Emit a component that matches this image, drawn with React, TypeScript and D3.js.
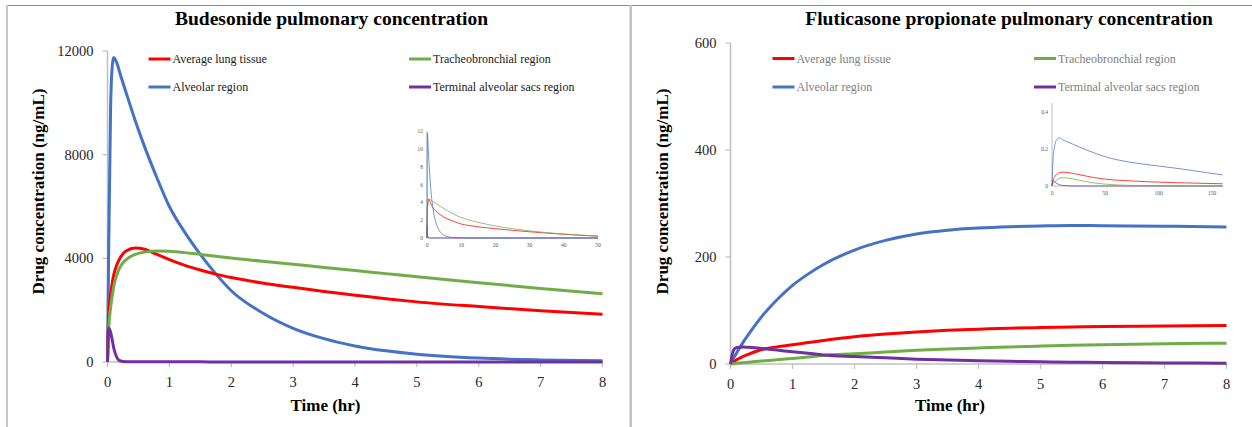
import React from 'react';
import * as d3 from 'd3';

// ---- Budesonide, 0-8 hr (ng/mL) ----
const budTime = [0, 0.02, 0.05, 0.08, 0.1, 0.15, 0.2, 0.3, 0.45, 0.6, 0.8, 1, 1.25, 1.5, 1.75, 2, 2.5, 3, 3.5, 4, 4.5, 5, 6, 7, 8];
const budAverage = [0, 1800, 2600, 3100, 3350, 3750, 4000, 4280, 4400, 4350, 4150, 3950, 3730, 3550, 3390, 3260, 3050, 2880, 2720, 2580, 2440, 2320, 2140, 1980, 1840];
const budTracheo = [0, 1300, 2100, 2600, 2900, 3350, 3650, 3950, 4150, 4240, 4280, 4270, 4220, 4150, 4080, 4010, 3890, 3770, 3650, 3530, 3410, 3290, 3060, 2840, 2630];
const budAlveolar = [0, 4500, 9800, 11500, 11750, 11550, 11150, 10400, 9300, 8300, 7100, 6000, 5000, 4150, 3400, 2750, 1900, 1300, 900, 620, 430, 300, 150, 80, 45];
const budTerminal = [0, 1300, 1150, 800, 550, 180, 50, 12, 8, 6, 5, 5, 5, 5, 4, 4, 4, 4, 4, 3, 3, 3, 3, 3, 3];
const budYTicks = [0, 4000, 8000, 12000];

// Budesonide inset, 0-50 hr (x1000 ng/mL)
const budInsetTime = [0, 0.02, 0.1, 0.45, 0.8, 1, 2, 3, 4, 5, 6, 7, 8, 10, 12, 15, 20, 25, 30, 35, 40, 45, 50];
const budInsetAverage = [0, 1.8, 3.35, 4.4, 4.15, 3.95, 3.26, 2.88, 2.58, 2.32, 2.14, 1.98, 1.84, 1.57, 1.42, 1.25, 1.05, 0.86, 0.7, 0.55, 0.42, 0.3, 0.2];
const budInsetTracheo = [0, 1.3, 2.9, 4.15, 4.28, 4.27, 4.01, 3.77, 3.53, 3.29, 3.06, 2.84, 2.63, 2.3, 2.05, 1.75, 1.35, 1.05, 0.8, 0.6, 0.45, 0.32, 0.22];
const budInsetAlveolar = [0, 4.5, 11.75, 9.3, 7.1, 6.0, 2.75, 1.3, 0.62, 0.3, 0.15, 0.08, 0.045, 0.015, 0.005, 0, 0, 0, 0, 0, 0, 0, 0];
const budInsetTerminal = [0, 1.3, 0.55, 0.008, 0.005, 0.005, 0.004, 0.004, 0.004, 0.003, 0.003, 0.003, 0.003, 0, 0, 0, 0, 0, 0, 0, 0, 0, 0];
const budInsetYTicks = [0, 2, 4, 6, 8, 10, 12];
const budInsetXTicks = [0, 10, 20, 30, 40, 50];

// ---- Fluticasone propionate, 0-8 hr (ng/mL) ----
const fluTime = [0, 0.05, 0.1, 0.2, 0.35, 0.5, 0.75, 1, 1.25, 1.5, 2, 2.5, 3, 3.5, 4, 4.5, 5, 5.5, 6, 7, 8];
const fluAverage = [0, 4, 8, 14, 21, 27, 32, 36, 40, 44, 51, 56, 60, 63, 65, 67, 68, 69, 70, 71, 72];
const fluTracheo = [0, 0.6, 1.2, 2.4, 4, 5.5, 8, 10.5, 13, 16, 19, 22.5, 25.5, 28, 30, 32, 33.5, 35, 36, 37.8, 39];
const fluAlveolar = [0, 11, 21, 40, 65, 88, 120, 147, 168, 186, 213, 231, 243, 250, 254, 256.5, 258, 259, 258.5, 257.5, 256];
const fluTerminal = [0, 26, 31, 32, 31, 29, 26, 23, 20, 17, 14, 11.5, 9, 7.5, 6, 5, 4, 3.3, 2.8, 2, 1.5];
const fluYTicks = [0, 200, 400, 600];

// Fluticasone inset, 0-160 hr (ug/mL)
const fluInsetTime = [0, 1, 2, 3, 5, 7, 10, 15, 20, 30, 40, 50, 60, 75, 90, 100, 115, 130, 145, 160];
const fluInsetAverage = [0, 0.03, 0.045, 0.055, 0.066, 0.072, 0.075, 0.073, 0.068, 0.056, 0.045, 0.037, 0.032, 0.027, 0.023, 0.021, 0.018, 0.016, 0.014, 0.012];
const fluInsetTracheo = [0, 0.012, 0.02, 0.026, 0.035, 0.041, 0.045, 0.043, 0.038, 0.026, 0.016, 0.01, 0.006, 0.003, 0.002, 0.001, 0, 0, 0, 0];
const fluInsetAlveolar = [0, 0.15, 0.2, 0.23, 0.255, 0.26, 0.25, 0.237, 0.225, 0.2, 0.178, 0.158, 0.143, 0.127, 0.115, 0.108, 0.097, 0.085, 0.072, 0.06];
const fluInsetTerminal = [0, 0.03, 0.025, 0.02, 0.012, 0.007, 0.003, 0.001, 0, 0, 0, 0, 0, 0, 0, 0, 0, 0, 0, 0];
const fluInsetYTicks = [0, 0.2, 0.4];
const fluInsetXTicks = [0, 50, 100, 150];

const xTicks = [0, 1, 2, 3, 4, 5, 6, 7, 8];
const seriesNames = ['Average lung tissue', 'Tracheobronchial region', 'Alveolar region', 'Terminal alveolar sacs region'];
const colors = ['#ff0000', '#70ad47', '#4472c4', '#7030a0'];

const serif = '"Liberation Serif", "Times New Roman", serif';
const axisGray = '#bfbfbf';

function Inset({ time, series, xMax, yMax, xTickVals, yTickVals, x0, x1, yb, yt, axisTop, fmt }) {
  const x = d3.scaleLinear().domain([0, xMax]).range([x0, x1]);
  const y = d3.scaleLinear().domain([0, yMax]).range([yb, yt]);
  const line = d3.line<number>()
    .x((d, i) => x(time[i]))
    .y(d => y(d))
    .curve(d3.curveMonotoneX);
  // draw order: terminal under others
  const order = [3, 0, 1, 2];
  return (
    <g>
      <line x1={x0} x2={x0} y1={axisTop} y2={yb} stroke={axisGray} strokeWidth={1} />
      <line x1={x0} x2={x1} y1={yb} y2={yb} stroke={axisGray} strokeWidth={1} />
      {yTickVals.map(v => (
        <text key={'y' + v} x={x0 - 4} y={y(v) + 2} fontSize={5.5} fill="#555" textAnchor="end" fontFamily={serif}>{fmt(v)}</text>
      ))}
      {xTickVals.map(v => (
        <text key={'x' + v} x={x(v)} y={yb + 9} fontSize={5.5} fill="#555" textAnchor="middle" fontFamily={serif}>{v}</text>
      ))}
      {order.map(k => (
        <path key={k} d={line(series[k]) || ''} fill="none" stroke={colors[k]} strokeWidth={1} opacity={0.75} />
      ))}
    </g>
  );
}

function Panel({ cfg }) {
  const { time, series, yMax, yTicks, x0, x1, yb, yt, title, titleX, xLabelX, yLabelX, legend, legendColor } = cfg;
  const x = d3.scaleLinear().domain([0, 8]).range([x0, x1]);
  const y = d3.scaleLinear().domain([0, yMax]).range([yb, yt]);
  const line = d3.line<number>()
    .x((d, i) => x(time[i]))
    .y(d => y(d))
    .curve(d3.curveMonotoneX);

  const order = [0, 1, 2, 3];
  const legendPos = [
    { sx: legend.c1, y: legend.r1 },
    { sx: legend.c2, y: legend.r1 },
    { sx: legend.c1, y: legend.r2 },
    { sx: legend.c2, y: legend.r2 },
  ];

  return (
    <g>
      <text x={titleX} y={25} textAnchor="middle" fontFamily={serif} fontWeight="bold" fontSize={19.5} fill="#000">{title}</text>

      {/* axes */}
      <line x1={x0} x2={x0} y1={yt} y2={yb} stroke={axisGray} strokeWidth={1.5} />
      <line x1={x0} x2={x1} y1={yb} y2={yb} stroke={axisGray} strokeWidth={1.5} />
      {yTicks.map(v => (
        <g key={'y' + v}>
          <line x1={x0 - 5} x2={x0} y1={y(v)} y2={y(v)} stroke={axisGray} strokeWidth={1.2} />
          <text x={x0 - 14} y={y(v) + 5} textAnchor="end" fontFamily={serif} fontSize={14.5} fill="#262626">{v}</text>
        </g>
      ))}
      {xTicks.map(v => (
        <g key={'x' + v}>
          <line x1={x(v)} x2={x(v)} y1={yb} y2={yb + 5} stroke={axisGray} strokeWidth={1.2} />
          <text x={x(v)} y={yb + 25} textAnchor="middle" fontFamily={serif} fontSize={14.5} fill="#262626">{v}</text>
        </g>
      ))}

      <text x={xLabelX} y={411} textAnchor="middle" fontFamily={serif} fontWeight="bold" fontSize={17} fill="#000">Time (hr)</text>
      <text transform={`translate(${yLabelX},191.5) rotate(-90)`} textAnchor="middle" fontFamily={serif} fontWeight="bold" fontSize={17} fill="#000">Drug concentration (ng/mL)</text>

      {/* legend */}
      {order.map(k => (
        <g key={'lg' + k}>
          <line x1={legendPos[k].sx} x2={legendPos[k].sx + 22} y1={legendPos[k].y} y2={legendPos[k].y} stroke={colors[k]} strokeWidth={3} />
          <text x={legendPos[k].sx + 24} y={legendPos[k].y + 4} fontFamily={serif} fontSize={12} fill={legendColor}>{seriesNames[k]}</text>
        </g>
      ))}

      {/* inset */}
      <Inset {...cfg.inset} />

      {/* main series */}
      {[2, 0, 1, 3].map(k => (
        <path key={k} d={line(series[k]) || ''} fill="none" stroke={colors[k]} strokeWidth={3} strokeLinejoin="round" />
      ))}
    </g>
  );
}

export default function App() {
  const left = {
    time: budTime,
    series: [budAverage, budTracheo, budAlveolar, budTerminal],
    yMax: 12000, yTicks: budYTicks,
    x0: 107.5, x1: 602.5, yb: 362, yt: 51,
    title: 'Budesonide pulmonary concentration', titleX: 331.5,
    xLabelX: 325.5, yLabelX: 44,
    legend: { c1: 148.5, c2: 409, r1: 59, r2: 87 },
    legendColor: '#1a1a1a',
    inset: {
      time: budInsetTime,
      series: [budInsetAverage, budInsetTracheo, budInsetAlveolar, budInsetTerminal],
      xMax: 50, yMax: 12, xTickVals: budInsetXTicks, yTickVals: budInsetYTicks,
      x0: 427, x1: 598, yb: 238, yt: 131, axisTop: 131,
      fmt: (v: number) => String(v),
    },
  };
  const right = {
    time: fluTime,
    series: [fluAverage, fluTracheo, fluAlveolar, fluTerminal],
    yMax: 600, yTicks: fluYTicks,
    x0: 730.5, x1: 1226.5, yb: 364, yt: 43,
    title: 'Fluticasone propionate pulmonary concentration', titleX: 1009,
    xLabelX: 950, yLabelX: 668,
    legend: { c1: 772.5, c2: 1034, r1: 58.5, r2: 87 },
    legendColor: '#808080',
    inset: {
      time: fluInsetTime,
      series: [fluInsetAverage, fluInsetTracheo, fluInsetAlveolar, fluInsetTerminal],
      xMax: 160, yMax: 0.4, xTickVals: fluInsetXTicks, yTickVals: fluInsetYTicks,
      x0: 1052, x1: 1222.7, yb: 186, yt: 112, axisTop: 103,
      fmt: (v: number) => String(v),
    },
  };

  return (
    <svg width={1252} height={427} style={{ position: 'absolute', left: 0, top: 0, background: '#fff' }}>
      <rect x={0} y={0} width={1252} height={427} fill="#fff" />
      {/* frame */}
      <line x1={6} x2={1252} y1={5.5} y2={5.5} stroke="#8c8c8c" strokeWidth={1} />
      <line x1={7} x2={7} y1={5} y2={427} stroke="#c6c6c6" strokeWidth={2} />
      <line x1={630.7} x2={630.7} y1={5} y2={427} stroke="#c0c0c0" strokeWidth={2.5} />
      <Panel cfg={left} />
      <Panel cfg={right} />
    </svg>
  );
}
